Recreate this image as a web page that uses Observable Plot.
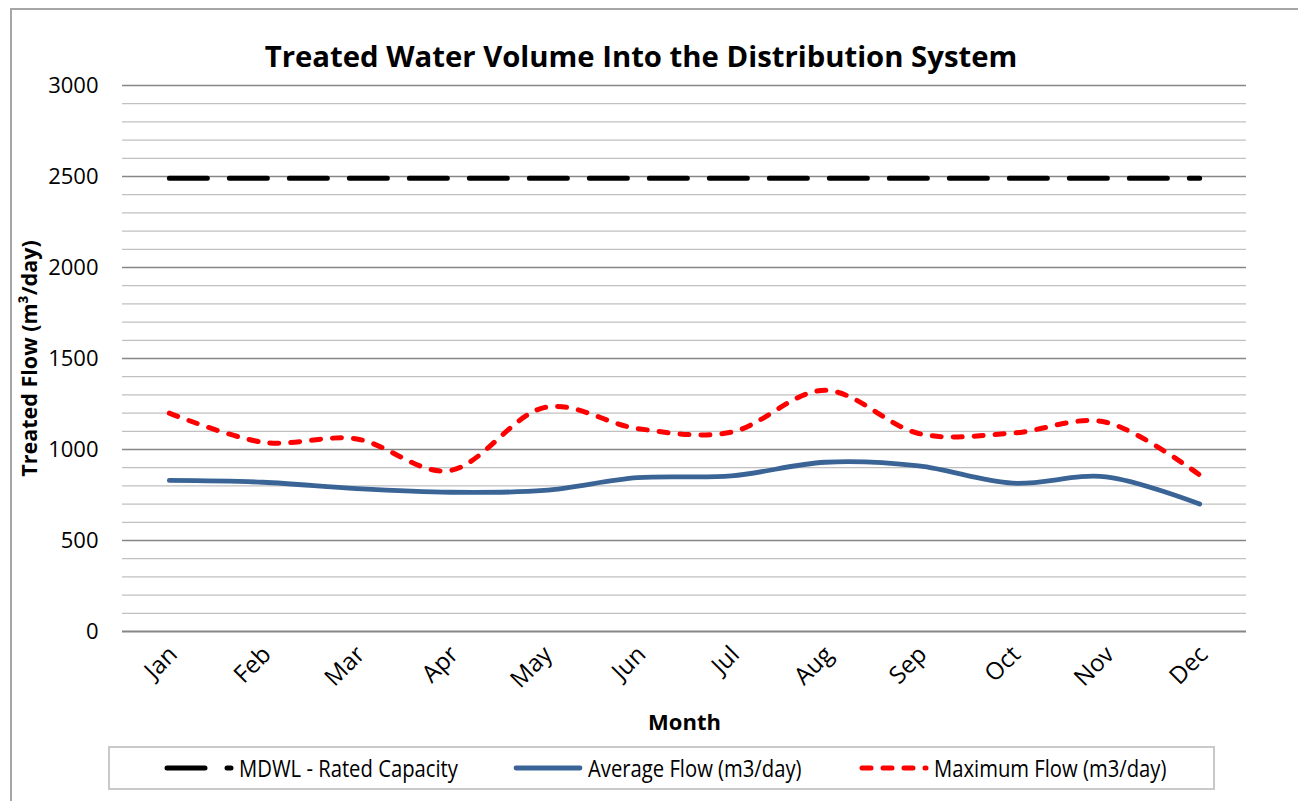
<!DOCTYPE html>
<html>
<head>
<meta charset="utf-8">
<script src="https://cdn.jsdelivr.net/npm/d3@7"></script>
<script src="https://cdn.jsdelivr.net/npm/@observablehq/plot@0.6"></script>
<style>
  html, body { margin: 0; padding: 0; background: #fff; width: 1298px; height: 801px; overflow: hidden; }
  body { position: relative; font-family: "Open Sans", sans-serif; }
  #frame { position: absolute; left: 10px; top: 8px; width: 1400px; height: 900px; border-top: 2px solid #a6a6a6; border-left: 2px solid #a6a6a6; box-sizing: border-box; }
  #title { position: absolute; left: 0; top: 36px; width: 1282px; text-align: center; font-size: 29.3px; font-weight: 700; color: #000; line-height: 40px; }
  #chart { position: absolute; left: 0; top: 70px; }
  #legend { position: absolute; left: 108px; top: 746px; width: 1107px; height: 44px; border: 2px solid #c9c9c9; box-sizing: border-box; }
  .item { position: absolute; top: 0; height: 40px; display: flex; align-items: center; }
  .item svg { display: block; }
  .item span { font-size: 23px; color: #000; margin-left: 4px; white-space: nowrap; display: inline-block; transform: scaleX(0.88); transform-origin: left center; }
</style>
</head>
<body>
<div id="frame"></div>
<div id="title">Treated Water Volume Into the Distribution System</div>
<div id="chart"></div>
<div id="legend"></div>
<script>
const months = ["Jan","Feb","Mar","Apr","May","Jun","Jul","Aug","Sep","Oct","Nov","Dec"];
const ratedCapacity = [2490,2490,2490,2490,2490,2490,2490,2490,2490,2490,2490,2490];
const averageFlow = [830,820,785,765,775,845,855,930,910,815,850,700];
const maximumFlow = [1200,1040,1058,885,1230,1115,1095,1325,1088,1090,1150,860];
const yTicks = [0,500,1000,1500,2000,2500,3000];
const minorGrid = d3.range(0, 3001, 100);

const seriesNames = ["MDWL - Rated Capacity", "Average Flow (m3/day)", "Maximum Flow (m3/day)"];
const seriesColors = ["#000000", "#3a6496", "#ff0000"];
const seriesDash = ["38,22", null, "9,12"];

const cap = months.map((m, i) => ({month: m, value: ratedCapacity[i]}));
const avg = months.map((m, i) => ({month: m, value: averageFlow[i]}));
const max = months.map((m, i) => ({month: m, value: maximumFlow[i]}));

const chart = Plot.plot({
  width: 1298,
  height: 670,
  marginTop: 15,
  marginLeft: 122,
  marginRight: 52,
  marginBottom: 109,
  style: {fontFamily: "Open Sans, sans-serif", fontSize: "22px", color: "#000", background: "transparent", overflow: "visible"},
  x: {type: "point", domain: months, padding: 0.5, round: false},
  y: {domain: [0, 3000]},
  marks: [
    Plot.ruleY(minorGrid.filter(v => v % 500 !== 0), {stroke: "#c0c0c0", strokeWidth: 1.3}),
    Plot.ruleY(yTicks.filter(v => v !== 0), {stroke: "#868686", strokeWidth: 1.3}),
    Plot.ruleY([0], {stroke: "#868686", strokeWidth: 2}),
    Plot.axisY({ticks: yTicks, tickSize: 0, tickPadding: 24, tickFormat: d => String(d), label: null, fontSize: 22}),
    Plot.axisX({tickSize: 0, tickPadding: 19, tickRotate: -45, label: null, fontSize: 24, dx: 4}),
    Plot.line(cap, {x: "month", y: "value", stroke: seriesColors[0], strokeWidth: 5, strokeDasharray: seriesDash[0], strokeLinecap: "round"}),
    Plot.line(avg, {x: "month", y: "value", stroke: seriesColors[1], strokeWidth: 4.8, curve: "cardinal", strokeLinecap: "round"}),
    Plot.line(max, {x: "month", y: "value", stroke: seriesColors[2], strokeWidth: 5, curve: "cardinal", strokeDasharray: seriesDash[2], strokeLinecap: "round"}),
    Plot.text(["Month"], {frameAnchor: "bottom", dy: 98, fontWeight: "bold", fontSize: 22}),
    Plot.text(["Treated Flow (m³/day)"], {frameAnchor: "left", dx: -92, rotate: -90, textAnchor: "middle", fontWeight: "bold", fontSize: 21.5})
  ]
});
document.getElementById("chart").appendChild(chart);

const legend = document.getElementById("legend");
const positions = [53, 402, 748];
seriesNames.forEach((name, i) => {
  const item = document.createElement("div");
  item.className = "item";
  item.style.left = positions[i] + "px";
  const ns = "http://www.w3.org/2000/svg";
  const svg = document.createElementNS(ns, "svg");
  svg.setAttribute("width", 72);
  svg.setAttribute("height", 12);
  const line = document.createElementNS(ns, "line");
  line.setAttribute("x1", 4); line.setAttribute("x2", 68);
  line.setAttribute("y1", 6); line.setAttribute("y2", 6);
  line.setAttribute("stroke", seriesColors[i]);
  line.setAttribute("stroke-width", i === 1 ? 4.8 : 5);
  line.setAttribute("stroke-linecap", "round");
  if (seriesDash[i]) line.setAttribute("stroke-dasharray", seriesDash[i]);
  svg.appendChild(line);
  item.appendChild(svg);
  const span = document.createElement("span");
  span.textContent = name;
  item.appendChild(span);
  legend.appendChild(item);
});
</script>
</body>
</html>
